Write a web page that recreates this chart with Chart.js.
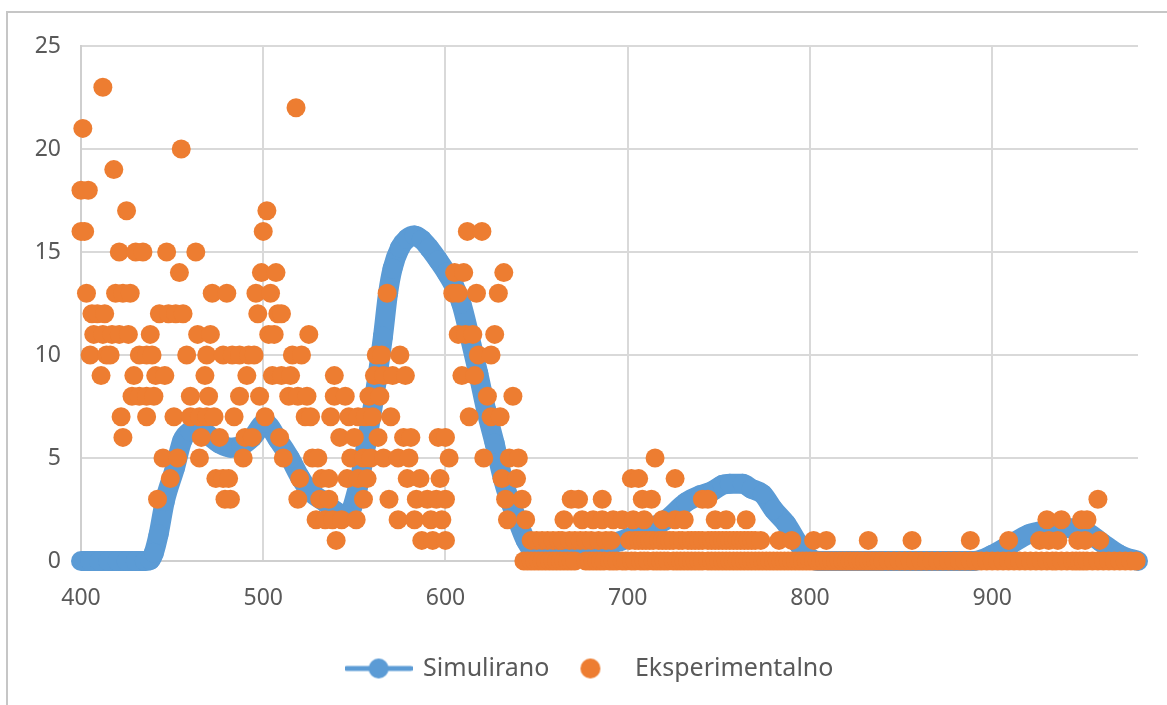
<!DOCTYPE html>
<html>
<head>
<meta charset="utf-8">
<style>
  html, body { margin: 0; padding: 0; background: #fff; overflow: hidden; }
  #frame { position: absolute; left: 6px; top: 11px; width: 1170px; height: 704px; border-left: 2px solid #c6c6c6; border-top: 2px solid #c6c6c6; }
  #wrap { position: absolute; left: 0; top: 0; width: 1167px; height: 705px; filter: blur(0.5px); }
</style>
<script src="https://cdn.jsdelivr.net/npm/chart.js@4"></script>
</head>
<body>
<div id="frame"></div>
<div id="wrap"><canvas id="chart"></canvas></div>
<script>
  const seriesNames = ['Simulirano', 'Eksperimentalno'];

  // Simulirano curve
  const simX = [400,405,410,415,420,425,430,435,438,440,442.6,446,451.5,455.6,460,465,470,476,482,488,494,501,508,514.6,520,525.5,534.7,540,546,552,556.6,561,565.7,568.5,571,575,579,583,587,591,596,600.5,605,608.7,613,618,622.4,627,631.5,635,639,644,650,655,660,665,670,680,690,700,710,721,732,740,746.5,752,756,763,768,774,780,787,794,800,805,820,840,860,880,890,900,910,920,930,940,950,960,970,980];
  const simY = [0,0,0,0,0,0,0,0,0.05,0.4,1.3,2.9,4.5,5.85,6.3,6.4,6.1,5.7,5.5,5.6,6.0,6.7,5.9,5.0,4.1,3.4,2.8,2.4,2.2,3.6,5.7,8,10.9,13,14.2,15.2,15.65,15.8,15.6,15.2,14.6,14,13.3,12.5,11,9.1,7.3,5.7,4,3,2.1,1,0.3,0.2,0.2,0.3,0.45,0.5,0.8,1.1,1.5,2.0,2.85,3.2,3.4,3.7,3.75,3.75,3.5,3.25,2.5,1.8,0.8,0.15,0,0,0,0,0,0,0.3,0.8,1.3,1.5,1.6,1.5,0.9,0.3,0];

  // Eksperimentalno: x positions for each measured count
  const expAt23 = [412];
  const expAt22 = [518];
  const expAt21 = [401];
  const expAt20 = [455];
  const expAt19 = [418];
  const expAt18 = [400,404];
  const expAt17 = [425,502];
  const expAt16 = [400,402,500,612,620];
  const expAt15 = [421,430,434,447,463];
  const expAt14 = [454,499,507,605,610,632];
  const expAt13 = [403,419,423,427,472,480,496,504,568,604,607,617,629];
  const expAt12 = [406,409,413,443,448,452,456,497,508,510];
  const expAt11 = [407,412,417,421,426,438,464,471,503,506,525,607,611,615,627];
  const expAt10 = [405,414,416,432,436,439,458,469,478,483,487,492,495,516,521,562,565,575,618,625];
  const expAt9 = [411,429,441,446,468,491,505,510,515,539,561,566,571,578,609,616];
  const expAt8 = [428,432,436,440,460,470,487,498,514,519,524,539,545,558,564,623,637];
  const expAt7 = [422,436,451,460,465,469,473,484,501,523,526,537,547,552,556,560,570,613,625,630];
  const expAt6 = [423,466,476,490,494,509,542,550,563,577,581,596,600];
  const expAt5 = [445,453,465,489,511,527,530,548,555,559,566,574,580,602,621,635,640,715];
  const expAt4 = [449,474,478,481,520,532,536,546,552,557,579,586,597,631,639,702,706,726];
  const expAt3 = [442,479,482,519,531,536,555,569,584,590,595,600,633,642,669,673,686,708,713,741,744,958];
  const expAt2 = [529,534,538,543,551,574,583,592,598,634,644,665,675,681,686,692,697,703,709,719,726,731,748,754,765,930,938,949,952];
  const expAt1 = [540,587,593,600,647,650,653,656,659,662,664,668,671,674,677,680,684,688,691,701,704,706,708,710,712,714,717,719,721,723,725,728,730,733,735,737,739,741,744,746,748,750,752,754,756,758,760,762,764,766,768,770,773,783,790,802,809,832,856,888,909,926,931,936,947,951,959];
  const expAt0 = [643,645,647,649,651,653,655,657,659,661,663,665,667,669,671,677,679,681,683,685,687,690,692,694,697,699,702,704,707,709,711,714,716,718,720,722,725,727,729,731,733,735,737,739,741,744,746,748,750,752,754,756,758,760,762,764,766,768,770,772,774,776,778,780,782,784,786,788,790,792,794,796,798,800,802,804,806,808,810,812,814,816,818,820,822,824,826,828,830,832,834,836,838,840,843,846,849,852,855,858,861,864,867,870,873,876,879,882,885,888,891,894,897,900,903,906,909,912,915,918,921,924,927,930,933,935,938,941,944,946,948,950,952,955,958,961,964,967,970,973,976,979];
  const expRows = [expAt0,expAt1,expAt2,expAt3,expAt4,expAt5,expAt6,expAt7,expAt8,expAt9,expAt10,expAt11,expAt12,expAt13,expAt14,expAt15,expAt16,expAt17,expAt18,expAt19,expAt20,expAt21,expAt22,expAt23];

  const BLUE = '#5B9BD5';
  const ORANGE = '#ED7D31';
  const FONT = '"Noto Sans", sans-serif';

  // legend keys: 68 wide like the spreadsheet legend
  function legendKey(withLine, color) {
    const c = document.createElement('canvas');
    c.width = 68;
    c.height = 22;
    const ctx = c.getContext('2d');
    if (withLine) {
      ctx.strokeStyle = color;
      ctx.lineWidth = 5;
      ctx.lineCap = 'round';
      ctx.beginPath();
      ctx.moveTo(2, 11);
      ctx.lineTo(66, 11);
      ctx.stroke();
    }
    ctx.fillStyle = color;
    ctx.beginPath();
    ctx.arc(34, 11, 10, 0, Math.PI * 2);
    ctx.fill();
    return c;
  }
  const legendKeys = [legendKey(true, BLUE), legendKey(false, ORANGE)];

  const simPoints = simX.map((x, i) => ({ x: x, y: simY[i] }));
  const expPoints = [];
  expRows.forEach((row, count) => {
    row.forEach(x => expPoints.push({ x: x, y: count }));
  });

  new Chart(document.getElementById('chart'), {
    type: 'scatter',
    data: {
      datasets: [
        {
          label: seriesNames[0],
          data: simPoints,
          showLine: true,
          borderColor: BLUE,
          backgroundColor: BLUE,
          borderWidth: 20,
          borderJoinStyle: 'round',
          cubicInterpolationMode: 'monotone',
          pointRadius: 10,
          pointBorderWidth: 0,
          clip: false,
          order: 2
        },
        {
          label: seriesNames[1],
          data: expPoints,
          showLine: false,
          borderColor: ORANGE,
          backgroundColor: ORANGE,
          pointRadius: 9.5,
          pointBorderWidth: 0,
          clip: false,
          order: 1
        }
      ]
    },
    options: {
      responsive: true,
      maintainAspectRatio: false,
      animation: false,
      layout: { padding: { left: 13, right: 0, top: 46, bottom: 14 } },
      plugins: {
        tooltip: { enabled: false },
        legend: {
          position: 'bottom',
          labels: {
            usePointStyle: true,
            pointStyleWidth: 64,
            padding: 9,
            color: '#595959',
            font: { family: FONT, size: 25 },
            generateLabels: chart => chart.data.datasets.map((d, i) => ({
              text: d.label,
              fontColor: '#595959',
              pointStyle: legendKeys[i],
              datasetIndex: i,
              lineWidth: 0
            }))
          }
        }
      },
      scales: {
        x: {
          type: 'linear',
          min: 400,
          max: 980,
          ticks: { stepSize: 100, includeBounds: false, color: '#595959', padding: 24, font: { family: FONT, size: 23 } },
          grid: { color: '#d9d9d9', lineWidth: 2, drawTicks: false },
          border: { color: '#cfcfcf', width: 2 },
          afterFit: scale => { scale.paddingRight = 29; scale.height = 86; }
        },
        y: {
          min: 0,
          max: 25,
          ticks: { stepSize: 5, color: '#595959', padding: 20, font: { family: FONT, size: 23 } },
          grid: { color: '#d9d9d9', lineWidth: 2, drawTicks: false },
          border: { color: '#cfcfcf', width: 2 },
          afterFit: scale => { scale.width = 68; }
        }
      }
    }
  });
</script>
</body>
</html>
